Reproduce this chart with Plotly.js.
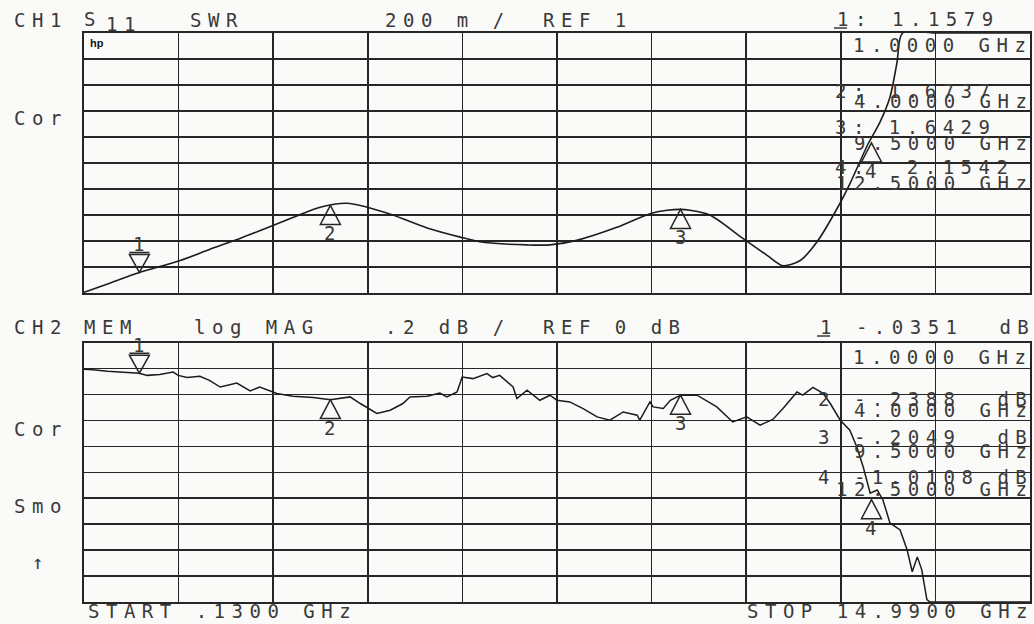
<!DOCTYPE html>
<html><head><meta charset="utf-8">
<script src="https://cdn.plot.ly/plotly-3.0.1.min.js"></script>
<style>
html,body{margin:0;padding:0;background:#fafaf9;}
#chart{width:1034px;height:624px;}
text.annotation-text{letter-spacing:6.5px;}
text.annotation-text[style*="Liberation Sans"]{letter-spacing:0;}
</style></head><body><div id="chart"></div><script>
// ---- data ----
const startGHz = 0.13, stopGHz = 14.99;
const ch1Freq = [0.13, 0.5, 1.0, 1.64, 2.1, 2.58, 3.0, 3.41, 3.84, 4.26, 4.58, 4.98, 5.52, 6.04, 6.40, 7.09, 7.45, 7.87, 8.50, 9.02, 9.29, 9.5, 9.65, 9.96, 10.48, 10.86, 11.11, 11.38, 11.64, 11.96, 12.16, 12.45, 12.63, 12.79, 12.90, 12.99, 13.5, 14.0, 14.5, 14.99];
const ch1Swr  = [1.005, 1.07, 1.158, 1.25, 1.335, 1.42, 1.50, 1.58, 1.66, 1.69, 1.66, 1.60, 1.50, 1.43, 1.39, 1.37, 1.37, 1.405, 1.505, 1.61, 1.636, 1.643, 1.636, 1.60, 1.42, 1.29, 1.21, 1.25, 1.39, 1.65, 1.84, 2.15, 2.31, 2.505, 2.77, 3.0, 3.0, 3.0, 3.0, 3.0];
const ch2Freq = [0.13, 0.27, 0.50, 0.80, 1.00, 1.12, 1.32, 1.53, 1.61, 1.75, 1.95, 2.10, 2.27, 2.53, 2.74, 2.89, 3.16, 3.41, 3.73, 4.00, 4.31, 4.47, 4.73, 4.94, 5.14, 5.25, 5.52, 5.72, 5.83, 5.99, 6.07, 6.24, 6.46, 6.55, 6.66, 6.87, 6.93, 7.09, 7.29, 7.45, 7.56, 7.76, 7.97, 8.19, 8.39, 8.60, 8.82, 8.86, 9.02, 9.07, 9.23, 9.34, 9.50, 9.76, 10.07, 10.32, 10.54, 10.75, 10.95, 11.11, 11.33, 11.42, 11.58, 11.74, 11.85, 12.01, 12.16, 12.27, 12.37, 12.48, 12.59, 12.68, 12.79, 12.95, 13.06, 13.14, 13.22, 13.29, 13.37, 13.42, 14.99];
const ch2dB   = [-0.005, -0.008, -0.02, -0.031, -0.035, -0.052, -0.046, -0.026, -0.052, -0.069, -0.059, -0.09, -0.142, -0.111, -0.172, -0.142, -0.192, -0.213, -0.223, -0.239, -0.218, -0.269, -0.346, -0.321, -0.269, -0.218, -0.213, -0.188, -0.218, -0.18, -0.065, -0.077, -0.038, -0.069, -0.052, -0.142, -0.231, -0.167, -0.244, -0.205, -0.244, -0.257, -0.308, -0.372, -0.398, -0.334, -0.359, -0.398, -0.257, -0.295, -0.308, -0.244, -0.205, -0.205, -0.295, -0.411, -0.372, -0.436, -0.392, -0.308, -0.18, -0.205, -0.144, -0.19, -0.267, -0.398, -0.475, -0.605, -0.759, -0.96, -0.936, -1.013, -1.19, -1.244, -1.398, -1.567, -1.452, -1.552, -1.782, -1.8, -1.8];
const markerFreq = [1.0, 4.0, 9.5, 12.5];
const ch1MarkerVal = [1.1579, 1.6737, 1.6429, 2.1542];
const ch2MarkerVal = [-0.0351, -0.2388, -0.2049, -1.0108];
const ch1Ref = 1, ch1PerDiv = 0.2;
const ch2Ref = 0, ch2PerDiv = 0.2;

// ---- drawing ----
const W = 1034, H = 624;
const ink = '#262626', txtCol = '#3a3a3a';
const mono = 'DejaVu Sans Mono, monospace';
const px = x => x / W, py = y => 1 - y / H;
const annotations = [];
const shapes = [];
function txt(s, x, y, size, extra) {
  annotations.push(Object.assign({text: s, x: px(x), y: py(y), xref: 'paper', yref: 'paper',
    xanchor: 'left', yanchor: 'middle', showarrow: false,
    font: {family: mono, size: size || 19, color: txtCol}}, extra || {}));
}
// headers
txt('CH1', 12, 20); txt('S', 82, 19); txt('11', 104, 24); txt('SWR', 188, 20);
txt('200 m /', 383, 20); txt('REF 1', 541, 20); txt('1:', 835, 19); txt('1.1579', 890, 19, 19, {font: {family: mono, size: 19, color: txtCol}});
txt('hp', 88, 43, 11, {font: {family: 'Liberation Sans, Arial', size: 11, color: '#111', weight: 'bold'}});
txt('1.0000 GHz', 851, 45);
txt('2: 1.6737', 833, 91); txt('4.0000 GHz', 852, 101);
txt('3: 1.6429', 833, 127); txt('9.5000 GHz', 852, 143);
txt('4:  2.1542', 833, 167); txt('12.5000 GHz', 834, 183);
txt('Cor', 12, 118);
txt('CH2', 12, 327); txt('MEM', 82, 327); txt('log MAG', 192, 327);
txt('.2 dB /', 383, 327); txt('REF 0 dB', 541, 327); txt('1 -.0351  dB', 818, 327);
txt('1.0000 GHz', 851, 357);
txt('2 -.2388  dB', 816, 399); txt('4.0000 GHz', 852, 410);
txt('3 -.2049  dB', 816, 437); txt('9.5000 GHz', 852, 451);
txt('4 -1.0108 dB', 816, 477); txt('12.5000 GHz', 834, 489);
txt('Cor', 12, 429); txt('Smo', 12, 506); txt('\u2191', 30, 562);
txt('START .1300 GHz', 86, 611); txt('STOP 14.9900 GHz', 745, 611);
// underlines of active marker number
shapes.push({type: 'line', xref: 'paper', yref: 'paper', x0: px(834), x1: px(847), y0: py(28), y1: py(28), line: {color: txtCol, width: 1.5}});
shapes.push({type: 'line', xref: 'paper', yref: 'paper', x0: px(817), x1: px(830), y0: py(336), y1: py(336), line: {color: txtCol, width: 1.5}});
// reference position arrow of CH1
shapes.push({type: 'path', xref: 'x', yref: 'y', xsizemode: 'pixel', ysizemode: 'pixel', xanchor: startGHz, yanchor: ch1Ref,
  path: 'M-4,0 L-12,4.5 L-12,-4.5 Z', line: {color: ink, width: 1.4}});

function markers(xr, yr, vals) {
  markerFreq.forEach((f, i) => {
    const down = i === 0;
    shapes.push({type: 'path', xref: xr, yref: yr, xsizemode: 'pixel', ysizemode: 'pixel', xanchor: f, yanchor: vals[i],
      path: down ? 'M0,0 L-10,18 L10,18 Z M-10,20 L10,20' : 'M0,0 L-10,-19 L10,-19 Z',
      line: {color: ink, width: 1.5}});
    annotations.push({text: String(i + 1), x: f, y: vals[i], xref: xr, yref: yr, showarrow: false,
      xanchor: 'center', yanchor: 'middle', xshift: 3, yshift: down ? 28 : -28,
      font: {family: mono, size: 19, color: txtCol}});
  });
}
markers('x', 'y', ch1MarkerVal);
markers('x2', 'y2', ch2MarkerVal);

const xBase = {range: [startGHz, stopGHz], tick0: startGHz, dtick: (stopGHz - startGHz) / 10,
  showgrid: true, gridcolor: ink, gridwidth: 1.6, showline: true, linecolor: ink, linewidth: 1.8, mirror: true,
  showticklabels: false, ticks: '', zeroline: false, domain: [84 / W, 1030 / W], fixedrange: true};
const layout = {
  width: W, height: H, margin: {l: 0, r: 0, t: 0, b: 0},
  paper_bgcolor: '#fafaf9', plot_bgcolor: '#fafaf9', showlegend: false,
  xaxis: Object.assign({}, xBase, {anchor: 'y'}),
  xaxis2: Object.assign({}, xBase, {anchor: 'y2'}),
  yaxis: {range: [ch1Ref, ch1Ref + 10 * ch1PerDiv], tick0: ch1Ref, dtick: ch1PerDiv, domain: [py(293), py(33)],
    showgrid: true, gridcolor: ink, gridwidth: 1.6, showline: true, linecolor: ink, linewidth: 1.8, mirror: true,
    showticklabels: false, ticks: '', zeroline: false, anchor: 'x', fixedrange: true},
  yaxis2: {range: [ch2Ref - 9 * ch2PerDiv, ch2Ref + ch2PerDiv], tick0: ch2Ref, dtick: ch2PerDiv, domain: [py(602), py(342.7)],
    showgrid: true, gridcolor: ink, gridwidth: 1.6, showline: true, linecolor: ink, linewidth: 1.8, mirror: true,
    showticklabels: false, ticks: '', zeroline: false, anchor: 'x2', fixedrange: true},
  annotations: annotations, shapes: shapes
};
const data = [
  {x: ch1Freq, y: ch1Swr, xaxis: 'x', yaxis: 'y', type: 'scatter', mode: 'lines',
   line: {color: '#1c1c1c', width: 1.6, shape: 'spline', smoothing: 0.8}, hoverinfo: 'skip'},
  {x: ch2Freq, y: ch2dB, xaxis: 'x2', yaxis: 'y2', type: 'scatter', mode: 'lines',
   line: {color: '#1c1c1c', width: 1.5}, hoverinfo: 'skip'}
];
Plotly.newPlot('chart', data, layout, {staticPlot: true, displayModeBar: false});
</script></body></html>
